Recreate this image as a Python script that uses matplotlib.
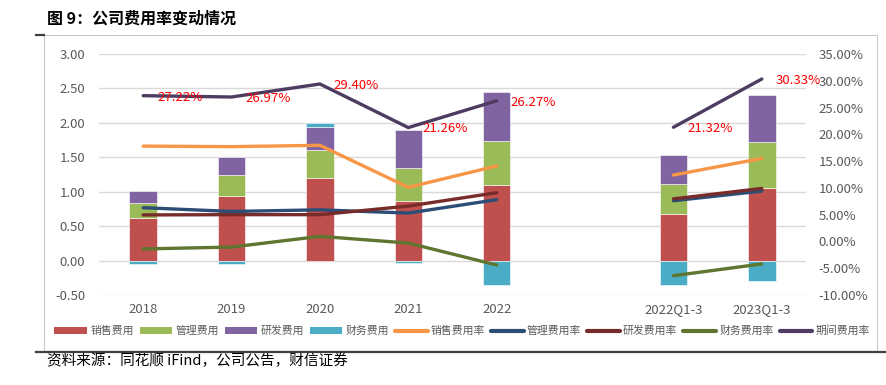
import numpy as np
import matplotlib.pyplot as plt
from matplotlib.lines import Line2D
from matplotlib.patches import Rectangle, Patch

plt.rcParams['font.family'] = ['Noto Sans CJK SC', 'DejaVu Sans']

categories = ['2018', '2019', '2020', '2021', '2022', '', '2022Q1-3', '2023Q1-3']
sales_exp = [0.62, 0.94, 1.20, 0.87, 1.10, np.nan, 0.68, 1.06]
admin_exp = [0.22, 0.30, 0.41, 0.47, 0.63, np.nan, 0.43, 0.66]
rd_exp = [0.17, 0.26, 0.33, 0.56, 0.72, np.nan, 0.43, 0.69]
fin_exp = [-0.05, -0.05, 0.06, -0.03, -0.36, np.nan, -0.36, -0.29]

sales_rate = [17.8, 17.7, 17.95, 10.1, 14.1, np.nan, 12.4, 15.5]
admin_rate = [6.3, 5.6, 5.9, 5.3, 7.8, np.nan, 7.6, 9.4]
rd_rate = [4.95, 5.0, 5.0, 6.6, 9.1, np.nan, 7.95, 9.9]
fin_rate = [-1.4, -1.05, 0.95, -0.3, -4.4, np.nan, -6.4, -4.2]
period_rate = [27.22, 26.97, 29.40, 21.26, 26.27, np.nan, 21.32, 30.33]

bar_names = ['销售费用', '管理费用', '研发费用', '财务费用']
line_names = ['销售费用率', '管理费用率', '研发费用率', '财务费用率', '期间费用率']
bar_colors = ['#C0504D', '#9BBB59', '#8064A2', '#4BACC6']
line_colors = ['#F79646', '#2C4D75', '#772C2A', '#5F7530', '#4D3B62']

W, H = 886, 385
fig = plt.figure(figsize=(W / 100, H / 100), dpi=100)

# frame decorations
fig.patches.append(Rectangle((44 / W, 1 - 351 / H), (877 - 44) / W, (351 - 35) / H,
                             transform=fig.transFigure, fill=False, edgecolor='#C8C8C8', lw=0.8))
fig.add_artist(Line2D([36 / W, 1.0], [1 - 352 / H] * 2, transform=fig.transFigure,
                      color='#404040', lw=1.6))
fig.add_artist(Line2D([36 / W, 44 / W], [1 - 35 / H] * 2, transform=fig.transFigure,
                      color='#404040', lw=1.6))

fig.text(47 / W, 1 - 19 / H, '图 9：公司费用率变动情况', fontsize=11.5, fontweight='bold',
         va='center', ha='left', color='#000000')
fig.text(47 / W, 1 - 361 / H, '资料来源：同花顺 iFind，公司公告，财信证券', fontsize=10.5,
         style='italic', va='center', ha='left', color='#000000')

ax = fig.add_axes([99 / W, 1 - 295 / H, (806 - 99) / W, (295 - 54) / H])
x = np.arange(len(categories))
bw = 0.31

series = [sales_exp, admin_exp, rd_exp, fin_exp]
valid = ~np.isnan(np.array(sales_exp, dtype=float))
pos_bottom = np.zeros(len(x))
neg_bottom = np.zeros(len(x))
for vals, c in zip(series, bar_colors):
    v = np.nan_to_num(np.array(vals, dtype=float))
    bottom = np.where(v >= 0, pos_bottom, neg_bottom)
    ax.bar(x[valid], v[valid], bw, bottom=bottom[valid], color=c, edgecolor='white',
           linewidth=0.4, zorder=2)
    pos_bottom = pos_bottom + np.where(v >= 0, v, 0)
    neg_bottom = neg_bottom + np.where(v < 0, v, 0)

ax.set_xlim(-0.5, len(x) - 0.5)
ax.set_ylim(-0.5, 3.0)
ax.set_yticks(np.arange(-0.5, 3.01, 0.5))
ax.set_yticklabels([f'{t:.2f}' for t in np.arange(-0.5, 3.01, 0.5)])
ax.set_xticks(x)
ax.set_xticklabels(categories)
ax.grid(axis='y', color='#D9D9D9', lw=1.0, zorder=0)
ax.set_axisbelow(True)
for s in ax.spines.values():
    s.set_visible(False)
ax.tick_params(axis='both', length=0, labelsize=9.5, labelcolor='#595959')
ax.tick_params(axis='y', pad=10)
ax.tick_params(axis='x', pad=6)

ax2 = ax.twinx()
ax2.set_ylim(-10, 35)
ax2.set_yticks(np.arange(-10, 35.1, 5))
ax2.set_yticklabels([f'{t:.2f}%' for t in np.arange(-10, 35.1, 5)])
for s in ax2.spines.values():
    s.set_visible(False)
ax2.tick_params(axis='y', length=0, labelsize=9.5, labelcolor='#595959', pad=9)

rates = [sales_rate, admin_rate, rd_rate, fin_rate, period_rate]
for vals, c in zip(rates, line_colors):
    ax2.plot(x, vals, color=c, lw=2.4, solid_capstyle='round', zorder=3)

for xi, v in zip(x, period_rate):
    if not np.isnan(v):
        ax2.annotate(f'{v:.2f}%', (xi, v), xytext=(10, -1), textcoords='offset points',
                     ha='left', va='center', color='#FF0000', fontsize=9.5)

handles = [Patch(facecolor=c, edgecolor='none') for c in bar_colors] + \
          [Line2D([], [], color=c, lw=3, solid_capstyle='round') for c in line_colors]
labels = bar_names + line_names
leg = fig.legend(handles, labels, loc='center', bbox_to_anchor=(462 / W, 1 - 331 / H),
                 ncol=9, frameon=False, fontsize=7.8, handlelength=3.0, handleheight=0.6,
                 handletextpad=0.3, columnspacing=0.55, borderpad=0)
for t in leg.get_texts():
    t.set_color('#595959')

fig.savefig('out.png', dpi=100)
